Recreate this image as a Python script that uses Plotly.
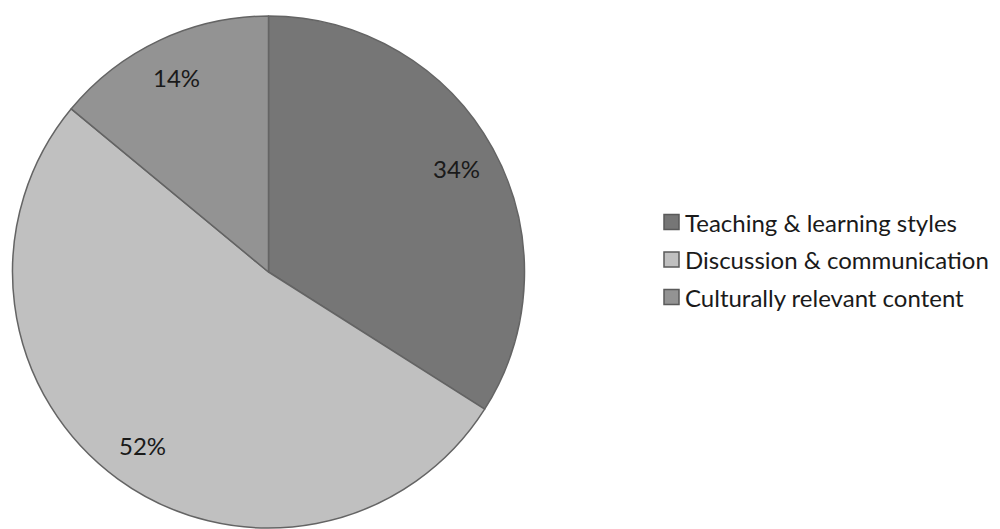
import math
import plotly.graph_objects as go

labels = ["Teaching & learning styles", "Discussion & communication", "Culturally relevant content"]
values = [34, 52, 14]
colors = ["#767676", "#c0c0c0", "#939393"]

W, H = 1000, 529
cx, cy_top, r = 268.5, 272.0, 256.0  # pie centre (px from left/top) and radius
FONT = "Lato"
FS = 24

fig = go.Figure()
fig.add_trace(go.Pie(
    labels=labels, values=values, sort=False, direction="clockwise", rotation=0,
    marker=dict(colors=colors, line=dict(color="#646464", width=1.5)),
    textinfo="none", hoverinfo="label+percent", showlegend=False,
    domain=dict(x=[(cx - r) / W, (cx + r) / W],
                y=[(H - cy_top - r) / H, (H - cy_top + r) / H]),
))

annotations = []
total = sum(values)
cum = 0
for v in values:
    mid = (cum + v / 2) / total * 2 * math.pi
    cum += v
    x = cx + 0.84 * r * math.sin(mid)
    y = cy_top - 0.84 * r * math.cos(mid)
    annotations.append(dict(x=x / W, y=1 - y / H, xref="paper", yref="paper",
                            xanchor="center", yanchor="middle",
                            text=f"{round(v / total * 100)}%", showarrow=False,
                            font=dict(family=FONT, size=FS, color="#1a1a1a")))

shapes = []
leg_x, leg_y0, leg_dy, sq = 664, 222, 37.5, 15
for i, (lab, col) in enumerate(zip(labels, colors)):
    yc = leg_y0 + i * leg_dy
    shapes.append(dict(type="rect", xref="paper", yref="paper",
                       x0=leg_x / W, x1=(leg_x + sq) / W,
                       y0=1 - (yc + sq / 2) / H, y1=1 - (yc - sq / 2) / H,
                       fillcolor=col, line=dict(color="#5a5a5a", width=1.5)))
    annotations.append(dict(x=(leg_x + sq + 4) / W, y=1 - yc / H, xref="paper", yref="paper",
                            xanchor="left", yanchor="middle", text=lab, showarrow=False,
                            font=dict(family=FONT, size=FS, color="#1a1a1a")))

fig.update_layout(
    width=W, height=H, margin=dict(l=0, r=0, t=0, b=0),
    paper_bgcolor="white", plot_bgcolor="white",
    annotations=annotations, shapes=shapes,
)
fig.write_html("out.html", config={"displayModeBar": False},
               post_script="document.body.style.margin='0';")
